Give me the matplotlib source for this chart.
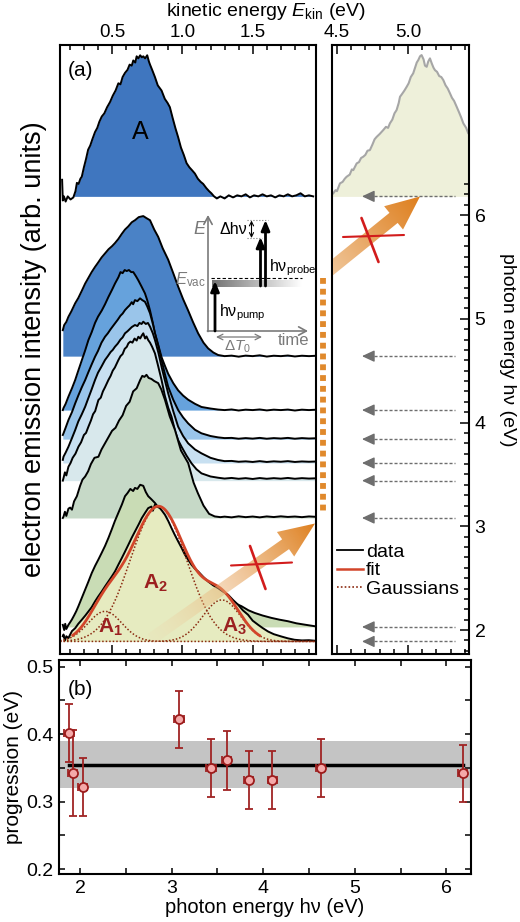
import numpy as np
import matplotlib
matplotlib.use("Agg")
import matplotlib.pyplot as plt
from matplotlib.patches import Polygon
from matplotlib.lines import Line2D
from matplotlib.ticker import MultipleLocator, FixedLocator, FormatStrFormatter
from matplotlib.colors import to_rgb

plt.rcParams.update({
    "font.family": ["Liberation Sans", "DejaVu Sans"],
    "mathtext.fontset": "custom",
    "mathtext.rm": "Liberation Sans",
    "mathtext.it": "Liberation Sans:italic",
    "mathtext.bf": "Liberation Sans:bold",
    "axes.linewidth": 1.5,
})

# ---------------- data: panel (a), left: (kinetic energy eV, intensity) -------------
hv_left = [6.18, 4.64, 4.12, 3.84, 3.61, 3.44, 3.08, 2.03, 1.89]

spec_618 = [(0.145, 0.16), (0.150, -0.04), (0.158, 0.00), (0.170, -0.05), (0.185, 0.00), (0.205, -0.03),
            (0.225, -0.01), (0.240, 0.05), (0.250, 0.13), (0.262, 0.12), (0.275, 0.17), (0.285, 0.19),
            (0.300, 0.28), (0.315, 0.36), (0.330, 0.45), (0.345, 0.49), (0.360, 0.55), (0.379, 0.62),
            (0.395, 0.66), (0.410, 0.72), (0.427, 0.77), (0.445, 0.80), (0.465, 0.86), (0.486, 0.91),
            (0.505, 0.97), (0.525, 1.02), (0.545, 1.09), (0.560, 1.08), (0.575, 1.15), (0.592, 1.19),
            (0.610, 1.22), (0.625, 1.27), (0.640, 1.26), (0.651, 1.31), (0.665, 1.29), (0.675, 1.35),
            (0.687, 1.33), (0.700, 1.36), (0.712, 1.34), (0.722, 1.35), (0.735, 1.33), (0.750, 1.36),
            (0.762, 1.30), (0.770, 1.27), (0.785, 1.22), (0.805, 1.15), (0.825, 1.07), (0.852, 1.02),
            (0.875, 0.94), (0.895, 0.90), (0.911, 0.86), (0.930, 0.76), (0.950, 0.66), (0.970, 0.57),
            (0.990, 0.47), (1.010, 0.40), (1.030, 0.32), (1.050, 0.28), (1.070, 0.25), (1.089, 0.22),
            (1.110, 0.17), (1.130, 0.14), (1.148, 0.12), (1.170, 0.08), (1.190, 0.05), (1.206, 0.03),
            (1.225, 0.00), (1.245, -0.02), (1.27, 0.00), (1.30, -0.02), (1.33, 0.01), (1.36, -0.01),
            (1.39, 0.01), (1.42, 0.00), (1.45, 0.02), (1.48, -0.01), (1.51, 0.01), (1.54, 0.00),
            (1.57, 0.02), (1.60, 0.00), (1.63, 0.01), (1.66, -0.01), (1.69, 0.01), (1.72, 0.00),
            (1.75, 0.02), (1.78, 0.00), (1.81, 0.01), (1.84, 0.03), (1.87, 0.00), (1.90, 0.01), (1.93, 0.00)]

spec_464 = [(0.150, 0.25), (0.160, 0.30), (0.175, 0.33), (0.190, 0.38), (0.210, 0.43), (0.238, 0.51),
            (0.260, 0.56), (0.285, 0.63), (0.309, 0.70), (0.330, 0.75), (0.355, 0.81), (0.379, 0.86),
            (0.400, 0.90), (0.425, 0.95), (0.450, 0.99), (0.475, 1.03), (0.500, 1.06), (0.521, 1.09),
            (0.545, 1.13), (0.570, 1.18), (0.592, 1.22), (0.615, 1.25), (0.640, 1.29), (0.663, 1.31),
            (0.690, 1.34), (0.722, 1.35), (0.745, 1.33), (0.770, 1.31), (0.800, 1.22), (0.828, 1.15),
            (0.860, 1.04), (0.899, 0.93), (0.935, 0.80), (0.970, 0.67), (1.005, 0.55), (1.041, 0.44),
            (1.075, 0.33), (1.112, 0.22), (1.150, 0.13), (1.183, 0.075), (1.220, 0.035), (1.254, 0.011),
            (1.30, 0.0), (1.35, 0.005), (1.40, -0.005), (1.45, 0.005), (1.50, 0.0), (1.55, 0.008),
            (1.60, -0.004), (1.65, 0.004), (1.70, 0.0), (1.75, 0.006), (1.80, -0.003), (1.85, 0.004),
            (1.90, 0.0), (1.94, 0.003)]

spec_412 = [(0.150, 0.00), (0.155, 0.02), (0.170, 0.06), (0.190, 0.13), (0.215, 0.21), (0.238, 0.29),
            (0.260, 0.38), (0.285, 0.48), (0.310, 0.58), (0.332, 0.675), (0.355, 0.75), (0.379, 0.84),
            (0.400, 0.90), (0.427, 0.96), (0.450, 1.02), (0.474, 1.09), (0.500, 1.16), (0.521, 1.22),
            (0.545, 1.28), (0.560, 1.33), (0.575, 1.32), (0.590, 1.35), (0.604, 1.34), (0.620, 1.35),
            (0.636, 1.33), (0.651, 1.33), (0.670, 1.29), (0.687, 1.25), (0.710, 1.19), (0.734, 1.125),
            (0.750, 1.06), (0.770, 0.96), (0.790, 0.84), (0.805, 0.74), (0.830, 0.62), (0.852, 0.51),
            (0.875, 0.43), (0.899, 0.35), (0.935, 0.26), (0.970, 0.19), (1.005, 0.14), (1.041, 0.10),
            (1.090, 0.06), (1.136, 0.03), (1.200, 0.015), (1.254, 0.005), (1.30, 0.0), (1.35, 0.006),
            (1.40, -0.004), (1.45, 0.004), (1.50, 0.0), (1.55, 0.006), (1.60, -0.003), (1.65, 0.004),
            (1.70, 0.0), (1.75, 0.005), (1.80, -0.004), (1.85, 0.004), (1.90, 0.0), (1.94, 0.003)]

spec_384 = [(0.150, 0.04), (0.155, 0.056), (0.170, 0.11), (0.190, 0.184), (0.215, 0.26), (0.238, 0.345),
            (0.260, 0.42), (0.285, 0.50), (0.309, 0.57), (0.330, 0.64), (0.355, 0.72), (0.379, 0.794),
            (0.400, 0.85), (0.425, 0.93), (0.450, 0.987), (0.470, 1.02), (0.490, 1.06), (0.521, 1.116),
            (0.540, 1.15), (0.560, 1.19), (0.575, 1.21), (0.592, 1.244), (0.610, 1.27), (0.625, 1.29),
            (0.640, 1.32), (0.650, 1.30), (0.663, 1.34), (0.680, 1.33), (0.699, 1.357), (0.715, 1.34),
            (0.734, 1.324), (0.750, 1.28), (0.770, 1.213), (0.790, 1.11), (0.805, 1.02), (0.830, 0.89),
            (0.852, 0.762), (0.875, 0.63), (0.899, 0.505), (0.935, 0.38), (0.970, 0.28), (1.005, 0.21),
            (1.041, 0.152), (1.090, 0.09), (1.136, 0.056), (1.200, 0.03), (1.254, 0.017), (1.30, 0.01),
            (1.35, 0.012), (1.40, 0.004), (1.45, 0.01), (1.50, 0.005), (1.55, 0.012), (1.60, 0.004),
            (1.65, 0.01), (1.70, 0.006), (1.75, 0.012), (1.80, 0.004), (1.85, 0.01), (1.90, 0.006),
            (1.94, 0.008)]

spec_361 = [(0.150, 0.03), (0.155, 0.061), (0.170, 0.10), (0.190, 0.157), (0.215, 0.24), (0.238, 0.318),
            (0.260, 0.40), (0.285, 0.47), (0.309, 0.543), (0.330, 0.62), (0.355, 0.71), (0.379, 0.80),
            (0.400, 0.87), (0.425, 0.93), (0.450, 0.993), (0.470, 1.03), (0.490, 1.07), (0.505, 1.09),
            (0.521, 1.121), (0.540, 1.15), (0.560, 1.19), (0.575, 1.21), (0.592, 1.25), (0.610, 1.27),
            (0.625, 1.29), (0.640, 1.31), (0.663, 1.33), (0.680, 1.32), (0.695, 1.35), (0.710, 1.34),
            (0.722, 1.362), (0.740, 1.34), (0.755, 1.35), (0.770, 1.314), (0.790, 1.25), (0.805, 1.186),
            (0.830, 1.06), (0.852, 0.928), (0.875, 0.80), (0.899, 0.672), (0.935, 0.50), (0.970, 0.35),
            (1.005, 0.26), (1.041, 0.19), (1.090, 0.13), (1.136, 0.093), (1.200, 0.05), (1.254, 0.029),
            (1.30, 0.018), (1.35, 0.02), (1.40, 0.012), (1.45, 0.016), (1.50, 0.01), (1.55, 0.018),
            (1.60, 0.01), (1.65, 0.016), (1.70, 0.012), (1.75, 0.018), (1.80, 0.01), (1.85, 0.015),
            (1.90, 0.012), (1.94, 0.014)]

spec_344 = [(0.150, 0.00), (0.155, 0.025), (0.165, 0.08), (0.175, 0.05), (0.190, 0.134), (0.205, 0.17),
            (0.220, 0.22), (0.240, 0.26), (0.261, 0.327), (0.280, 0.37), (0.300, 0.44), (0.315, 0.46),
            (0.332, 0.52), (0.350, 0.58), (0.365, 0.64), (0.380, 0.67), (0.403, 0.777), (0.420, 0.80),
            (0.435, 0.86), (0.450, 0.90), (0.474, 0.97), (0.490, 1.01), (0.505, 1.06), (0.520, 1.09),
            (0.545, 1.162), (0.560, 1.20), (0.575, 1.22), (0.590, 1.27), (0.605, 1.29), (0.616, 1.323),
            (0.630, 1.34), (0.645, 1.33), (0.660, 1.37), (0.675, 1.35), (0.687, 1.387), (0.700, 1.37),
            (0.712, 1.40), (0.722, 1.42), (0.735, 1.37), (0.745, 1.39), (0.757, 1.355), (0.770, 1.33),
            (0.785, 1.29), (0.805, 1.227), (0.825, 1.12), (0.852, 0.97), (0.875, 0.82), (0.900, 0.70),
            (0.923, 0.616), (0.950, 0.47), (0.970, 0.39), (0.994, 0.327), (1.030, 0.24), (1.065, 0.167),
            (1.100, 0.11), (1.136, 0.07), (1.200, 0.04), (1.254, 0.028), (1.30, 0.02), (1.35, 0.026),
            (1.40, 0.018), (1.45, 0.024), (1.50, 0.016), (1.55, 0.025), (1.60, 0.018), (1.65, 0.024),
            (1.70, 0.019), (1.75, 0.026), (1.80, 0.018), (1.85, 0.024), (1.90, 0.02), (1.94, 0.022)]

spec_308 = [(0.150, 0.00), (0.155, 0.013), (0.165, 0.06), (0.175, 0.02), (0.190, 0.09), (0.202, 0.10),
            (0.215, 0.08), (0.230, 0.16), (0.250, 0.21), (0.273, 0.31), (0.290, 0.37), (0.309, 0.40),
            (0.330, 0.45), (0.350, 0.52), (0.375, 0.58), (0.403, 0.59), (0.425, 0.66), (0.450, 0.72),
            (0.475, 0.78), (0.500, 0.84), (0.525, 0.87), (0.550, 0.94), (0.575, 0.99), (0.600, 1.08),
            (0.625, 1.12), (0.650, 1.22), (0.675, 1.25), (0.700, 1.33), (0.715, 1.37), (0.730, 1.36),
            (0.745, 1.38), (0.760, 1.35), (0.780, 1.34), (0.800, 1.32), (0.828, 1.30), (0.850, 1.24),
            (0.876, 1.14), (0.910, 0.98), (0.947, 0.85), (0.990, 0.65), (1.041, 0.53), (1.080, 0.34),
            (1.110, 0.24), (1.150, 0.12), (1.190, 0.04), (1.230, 0.015), (1.27, 0.008), (1.30, 0.013),
            (1.35, 0.006), (1.40, 0.016), (1.45, 0.008), (1.50, 0.014), (1.55, 0.006), (1.60, 0.015),
            (1.65, 0.009), (1.70, 0.016), (1.75, 0.01), (1.80, 0.014), (1.85, 0.008), (1.90, 0.015),
            (1.94, 0.012)]

spec_203 = [(0.150, 0.02), (0.160, -0.03), (0.167, 0.03), (0.175, -0.02), (0.190, 0.02), (0.200, 0.04),
            (0.214, 0.07), (0.230, 0.11), (0.245, 0.15), (0.261, 0.20), (0.285, 0.28), (0.309, 0.36),
            (0.330, 0.43), (0.356, 0.52), (0.380, 0.59), (0.403, 0.65), (0.425, 0.71), (0.450, 0.78),
            (0.475, 0.86), (0.498, 0.94), (0.520, 1.02), (0.545, 1.10), (0.570, 1.18), (0.592, 1.26),
            (0.610, 1.29), (0.630, 1.33), (0.650, 1.31), (0.663, 1.34), (0.680, 1.33), (0.700, 1.37),
            (0.722, 1.36), (0.740, 1.30), (0.757, 1.26), (0.780, 1.23), (0.805, 1.195), (0.830, 1.15),
            (0.852, 1.10), (0.875, 1.05), (0.899, 1.00), (0.920, 0.94), (0.947, 0.874), (0.980, 0.79),
            (1.018, 0.713), (1.050, 0.63), (1.089, 0.552), (1.120, 0.49), (1.160, 0.424), (1.200, 0.37),
            (1.230, 0.328), (1.280, 0.29), (1.325, 0.263), (1.370, 0.23), (1.420, 0.20), (1.470, 0.16),
            (1.514, 0.135), (1.570, 0.11), (1.633, 0.087), (1.690, 0.07), (1.750, 0.055), (1.810, 0.035),
            (1.869, 0.022), (1.940, 0.007)]

spec_189 = [(0.150, 0.05), (0.155, 0.067), (0.165, 0.01), (0.175, 0.05), (0.190, 0.032), (0.200, 0.06),
            (0.215, 0.10), (0.238, 0.128), (0.260, 0.17), (0.285, 0.209), (0.310, 0.25), (0.332, 0.289),
            (0.355, 0.33), (0.379, 0.386), (0.400, 0.43), (0.427, 0.482), (0.450, 0.53), (0.474, 0.578),
            (0.500, 0.63), (0.521, 0.675), (0.545, 0.74), (0.569, 0.803), (0.590, 0.86), (0.616, 0.932),
            (0.640, 1.00), (0.663, 1.06), (0.690, 1.13), (0.711, 1.188), (0.735, 1.24), (0.757, 1.285),
            (0.780, 1.30), (0.790, 1.26), (0.805, 1.318), (0.820, 1.30), (0.840, 1.285), (0.855, 1.26),
            (0.876, 1.221), (0.900, 1.16), (0.923, 1.092), (0.945, 1.03), (0.970, 0.964), (0.995, 0.90),
            (1.018, 0.836), (1.040, 0.79), (1.065, 0.739), (1.090, 0.70), (1.112, 0.675), (1.150, 0.62),
            (1.183, 0.578), (1.220, 0.54), (1.254, 0.514), (1.290, 0.48), (1.325, 0.45), (1.360, 0.40),
            (1.396, 0.354), (1.430, 0.30), (1.467, 0.257), (1.500, 0.20), (1.538, 0.161), (1.570, 0.13),
            (1.609, 0.096), (1.650, 0.07), (1.703, 0.048), (1.750, 0.03), (1.798, 0.016), (1.850, 0.01),
            (1.900, 0.012), (1.940, 0.007)]

spectra_left = [spec_618, spec_464, spec_412, spec_384, spec_361, spec_344, spec_308, spec_203, spec_189]
fill_colors = ["#3f76bf", "#4a82c6", "#66a2dc", "#9ac5ea", "#c8e0f1", "#d8e8ec", "#c6d9c7", "#c9dcb5", "#e6ebc0"]

# Gaussian fit components of the 1.89 eV spectrum (A1, A2, A3)
gauss_center = [0.45, 0.83, 1.28]
gauss_height = [0.29, 1.30, 0.40]
gauss_sigma = [0.12, 0.20, 0.135]
fit_range = (0.22, 1.55)

# ---------------- panel (a), right: second-order spectrum at 6.18 eV ----------------
hv_right = 6.18
spec_right = [(4.465, 0.02), (4.474, 0.029), (4.49, 0.06), (4.50, 0.05), (4.521, 0.125), (4.54, 0.14),
              (4.555, 0.17), (4.568, 0.189), (4.59, 0.21), (4.605, 0.26), (4.615, 0.253), (4.639, 0.318),
              (4.655, 0.33), (4.67, 0.37), (4.685, 0.382), (4.70, 0.40), (4.715, 0.44), (4.732, 0.446),
              (4.75, 0.50), (4.765, 0.55), (4.78, 0.574), (4.80, 0.60), (4.826, 0.639), (4.845, 0.67),
              (4.86, 0.66), (4.873, 0.704), (4.89, 0.74), (4.905, 0.80), (4.92, 0.832), (4.935, 0.90),
              (4.944, 0.96), (4.96, 0.99), (4.975, 1.02), (4.991, 1.056), (5.005, 1.09), (5.02, 1.15),
              (5.037, 1.186), (5.05, 1.24), (5.062, 1.29), (5.073, 1.314), (5.085, 1.35), (5.096, 1.362),
              (5.11, 1.32), (5.12, 1.26), (5.132, 1.249), (5.143, 1.30), (5.155, 1.33), (5.168, 1.28),
              (5.18, 1.24), (5.19, 1.217), (5.205, 1.20), (5.22, 1.16), (5.235, 1.15), (5.249, 1.121),
              (5.265, 1.07), (5.28, 1.04), (5.296, 0.993), (5.31, 0.95), (5.325, 0.92), (5.343, 0.864),
              (5.36, 0.81), (5.375, 0.76), (5.39, 0.704), (5.41, 0.66), (5.425, 0.607), (5.435, 0.60)]
arrow_hv = [6.18, 4.64, 4.12, 3.84, 3.61, 3.44, 3.08, 2.03, 1.89]

# ---------------- panel (b) ----------------
hv_b = [1.88, 1.92, 2.03, 3.08, 3.43, 3.60, 3.84, 4.10, 4.63, 6.18]
prog = [0.401, 0.342, 0.322, 0.422, 0.350, 0.361, 0.332, 0.332, 0.350, 0.342]
prog_err = [0.043, 0.064, 0.043, 0.042, 0.043, 0.044, 0.043, 0.043, 0.043, 0.042]
hv_err = [0.05] * 10
prog_mean = 0.355
prog_band = 0.035

# ---------------- figure ----------------
W, H = 520, 922
fig = plt.figure(figsize=(W / 100, H / 100), dpi=100)


def frac(x0, y0, x1, y1):
    return [x0 / W, 1 - y1 / H, (x1 - x0) / W, (y1 - y0) / H]


ax_l = fig.add_axes(frac(60, 45, 316, 654))
ax_r = fig.add_axes(frac(332, 45, 469, 654))
ax_b = fig.add_axes(frac(59, 660, 471, 874))
ov = fig.add_axes([0, 0, 1, 1], zorder=10)
ov.set_xlim(0, W)
ov.set_ylim(H, 0)
ov.axis("off")

YLIM = (1.769, 7.639)

# ---- left panel spectra ----
for k, (hv, pts, fc) in enumerate(zip(hv_left, spectra_left, fill_colors)):
    E = np.array([p[0] for p in pts])
    I = np.array([p[1] for p in pts])
    where = E >= (0.225 if k == 0 else 0.0)
    ax_l.fill_between(E, hv, hv + I, where=where, interpolate=True, color=fc, lw=0, zorder=1 + 0.02 * k)
    ax_l.plot(E, hv + I, color="k", lw=1.4, zorder=1.01 + 0.02 * k)

hv_fit = hv_left[-1]
Eg = np.linspace(0.13, 1.95, 400)
comps = [h * np.exp(-(Eg - c) ** 2 / (2 * s ** 2)) for c, h, s in zip(gauss_center, gauss_height, gauss_sigma)]
for g in comps:
    ax_l.plot(Eg, hv_fit + g, color="#8b2a10", lw=1.1, ls=(0, (1, 1.3)), zorder=1.3)
fsel = (Eg >= fit_range[0]) & (Eg <= fit_range[1])
ax_l.plot(Eg[fsel], hv_fit + sum(comps)[fsel], color="#d2452a", lw=2.0, zorder=1.35)

ax_l.text(0.70, 6.80, "A", fontsize=18, ha="center", va="center", zorder=3)
lab_col = "#9b2020"
ax_l.text(0.486, 2.03, r"$\mathbf{A}_{\mathbf{1}}$", fontsize=15, color=lab_col, ha="center", va="center", zorder=3)
ax_l.text(0.805, 2.45, r"$\mathbf{A}_{\mathbf{2}}$", fontsize=15, color=lab_col, ha="center", va="center", zorder=3)
ax_l.text(1.372, 2.04, r"$\mathbf{A}_{\mathbf{3}}$", fontsize=15, color=lab_col, ha="center", va="center", zorder=3)
ax_l.text(0.03, 0.958, "(a)", transform=ax_l.transAxes, fontsize=15, ha="left", va="center")

ax_l.set_xlim(0.13, 1.95)
ax_l.set_ylim(*YLIM)
ax_l.xaxis.set_major_locator(MultipleLocator(0.5))
ax_l.xaxis.set_minor_locator(MultipleLocator(0.1))
ax_l.xaxis.set_major_formatter(FormatStrFormatter("%.1f"))
ax_l.tick_params(axis="x", which="both", direction="in", top=True, bottom=True,
                 labeltop=True, labelbottom=False, labelsize=13.5, pad=3, width=1.1)
ax_l.tick_params(axis="x", which="major", length=6.5)
ax_l.tick_params(axis="x", which="minor", length=3.5)
ax_l.tick_params(axis="y", left=False, labelleft=False)
ax_l.set_ylabel("electron emission intensity (arb. units)", fontsize=19.5, labelpad=9)

# ---- right panel ----
Er = np.array([p[0] for p in spec_right])
Ir = np.array([p[1] for p in spec_right])
ax_r.fill_between(Er, hv_right, hv_right + Ir, color="#eef0da", lw=0, zorder=1)
ax_r.plot(Er, hv_right + Ir, color="#a6a6a6", lw=1.5, zorder=1.1)
for hv in arrow_hv:
    ax_r.plot([4.725, 5.33], [hv, hv], color="#6e6e6e", lw=1.0, ls=(0, (2.2, 1.4)), zorder=1.5)
    ax_r.annotate("", xy=(4.676, hv), xytext=(4.74, hv),
                  arrowprops=dict(arrowstyle="-|>,head_length=0.75,head_width=0.35", color="#6e6e6e",
                                  lw=1.0, shrinkA=0, shrinkB=0), zorder=1.5)
ax_r.set_xlim(4.465, 5.43)
ax_r.set_ylim(*YLIM)
ax_r.xaxis.set_major_locator(MultipleLocator(0.5))
ax_r.xaxis.set_minor_locator(MultipleLocator(0.1))
ax_r.xaxis.set_major_formatter(FormatStrFormatter("%.1f"))
ax_r.tick_params(axis="x", which="both", direction="in", top=True, bottom=True,
                 labeltop=True, labelbottom=False, labelsize=13.5, pad=3, width=1.1)
ax_r.tick_params(axis="x", which="major", length=6.5)
ax_r.tick_params(axis="x", which="minor", length=3.5)
ax_r.yaxis.set_major_locator(FixedLocator([2, 3, 4, 5, 6]))
ax_r.yaxis.set_minor_locator(FixedLocator(np.round(np.arange(1.8, 6.31, 0.1), 2)))
ax_r.tick_params(axis="y", which="both", direction="in", left=False, right=True,
                 labelleft=False, labelright=True, labelsize=14, pad=4, width=1.1)
ax_r.tick_params(axis="y", which="major", length=6.5)
ax_r.tick_params(axis="y", which="minor", length=3.5)
ax_r.yaxis.set_label_position("right")
ax_r.set_ylabel("photon energy h\u03bd (eV)", fontsize=14, rotation=270, va="bottom", labelpad=10)

leg_handles = [Line2D([], [], color="k", lw=1.3),
               Line2D([], [], color="#d2452a", lw=1.8),
               Line2D([], [], color="#8b2a10", lw=1.2, ls=(0, (1, 1.3)))]
ax_r.legend(leg_handles, ["data", "fit", "Gaussians"], loc="upper left", bbox_to_anchor=(0.04, 0.182),
            frameon=False, fontsize=14, handlelength=1.3, handletextpad=0.15, labelspacing=0.05,
            borderpad=0, borderaxespad=0)

# ---- panel (b) ----
ax_b.axhspan(prog_mean - prog_band, prog_mean + prog_band, color="#c4c4c4", lw=0, zorder=0.5)
ax_b.plot([min(hv_b), max(hv_b)], [prog_mean, prog_mean], color="k", lw=2.5, zorder=1)
ax_b.errorbar(hv_b, prog, yerr=prog_err, xerr=hv_err, fmt="o", ms=6.5, mfc="#f4a9a9", mec="#9c1c1c",
              mew=1.3, ecolor="#a02424", elinewidth=1.3, capsize=3, capthick=1.3, zorder=3)
ax_b.set_xlim(1.77, 6.27)
ax_b.set_ylim(0.1926, 0.51)
ax_b.xaxis.set_major_locator(MultipleLocator(1))
ax_b.xaxis.set_minor_locator(MultipleLocator(0.5))
ax_b.yaxis.set_major_locator(MultipleLocator(0.1))
ax_b.yaxis.set_minor_locator(MultipleLocator(0.05))
ax_b.yaxis.set_major_formatter(FormatStrFormatter("%.1f"))
ax_b.tick_params(which="both", direction="in", top=True, right=True, length=4.5, width=1.1,
                 labelsize=14, pad=4)
ax_b.set_xlabel("photon energy h\u03bd (eV)", fontsize=14.5, labelpad=1)
ax_b.set_ylabel("progression (eV)", fontsize=15, labelpad=2)
ax_b.text(0.022, 0.864, "(b)", transform=ax_b.transAxes, fontsize=15, ha="left", va="center")

# ---- top label ----
fig.text(266 / W, 1 - 11.5 / H, r"kinetic energy $E_{\rm kin}$ (eV)", ha="center", va="center", fontsize=14)


# ---------------- overlay decorations (pixel coordinates) ----------------
def grad_arrow(ax, tail, tip, shaft_w, head_w, head_l, cols, alphas, cut_x=None, z=5):
    tail = np.array(tail, float)
    tip = np.array(tip, float)
    d = tip - tail
    L = np.hypot(*d)
    u = d / L
    n = np.array([-u[1], u[0]])
    base = tip - u * head_l
    t1 = tail + n * shaft_w / 2
    t2 = tail - n * shaft_w / 2
    if cut_x is not None:
        t1 = t1 + u * (cut_x - t1[0]) / u[0]
        t2 = t2 + u * (cut_x - t2[0]) / u[0]
    pts = [t1, base + n * shaft_w / 2, base + n * head_w / 2, tip,
           base - n * head_w / 2, base - n * shaft_w / 2, t2]
    poly = Polygon(pts, closed=True, fc="none", ec="none")
    ax.add_patch(poly)
    xs = [p[0] for p in pts]
    ys = [p[1] for p in pts]
    x0, x1, y0, y1 = min(xs), max(xs), min(ys), max(ys)
    gx = np.linspace(x0, x1, 220)
    gy = np.linspace(y0, y1, 220)
    X, Y = np.meshgrid(gx, gy)
    t = np.clip(((X - tail[0]) * u[0] + (Y - tail[1]) * u[1]) / L, 0, 1)
    c0 = np.array(to_rgb(cols[0]))
    c1 = np.array(to_rgb(cols[1]))
    rgba = np.zeros((220, 220, 4))
    rgba[..., :3] = c0 + (c1 - c0) * t[..., None]
    rgba[..., 3] = alphas[0] + (alphas[1] - alphas[0]) * t
    im = ax.imshow(rgba, extent=(x0, x1, y1, y0), origin="upper", aspect="auto",
                   interpolation="bilinear", zorder=z)
    im.set_clip_path(poly)


def stroke(ax, p0, p1, lw, color="#d21c1c", z=6):
    ax.plot([p0[0], p1[0]], [p0[1], p1[1]], color=color, lw=lw, solid_capstyle="round", zorder=z)


# lower orange arrow with red cross
grad_arrow(ov, (151, 639), (315, 523.5), 12, 30, 36, ("#f3d3ae", "#de7e1c"), (0.12, 1.0))
stroke(ov, (231, 565.5), (292, 562.5), 1.5)
stroke(ov, (250, 546), (265.5, 589), 1.9)

# upper orange arrow (clipped at the right panel's edge) with red cross
grad_arrow(ov, (300, 293.6), (420, 196.5), 13, 30, 34, ("#f5dcc0", "#de7e1c"), (1.0, 1.0), cut_x=332.8)
stroke(ov, (343, 237), (404, 235), 1.5)
stroke(ov, (361.5, 218), (378.5, 262), 1.9)

# orange dotted column between the panels
ov.plot([322.7, 322.7], [278, 512], color="#e0892b", lw=4.2, ls=(0, (1.0, 0.85)),
        dash_capstyle="butt", zorder=4)

# inset: energy scheme
gray = "#7a7a7a"
ov.annotate("", xy=(208, 215), xytext=(208, 331.5),
            arrowprops=dict(arrowstyle="->,head_length=0.55,head_width=0.3", color=gray, lw=1.2,
                            shrinkA=0, shrinkB=0))
ov.annotate("", xy=(308, 331), xytext=(207.4, 331),
            arrowprops=dict(arrowstyle="->,head_length=0.55,head_width=0.3", color=gray, lw=1.2,
                            shrinkA=0, shrinkB=0))
ov.text(199, 229, "E", style="italic", color=gray, fontsize=13, ha="center", va="center")
ov.text(293, 340, "time", color=gray, fontsize=12, ha="center", va="center")
ov.annotate("", xy=(262, 337), xytext=(216, 337),
            arrowprops=dict(arrowstyle="<->,head_length=0.4,head_width=0.2", color=gray, lw=0.9,
                            shrinkA=0, shrinkB=0))
ov.text(237, 347, r"$\Delta T_0$", color=gray, fontsize=11, ha="center", va="center")
bar = np.ones((2, 120, 3)) * np.linspace(0.45, 1.0, 120)[None, :, None]
ov.imshow(bar, extent=(212, 302, 287, 280), origin="upper", aspect="auto", interpolation="bilinear", zorder=3)
ov.plot([211, 302], [278.5, 278.5], color="k", lw=0.8, ls=(0, (3, 2)), zorder=4)
ov.text(206, 279.5, r"$E_{\rm vac}$", color=gray, fontsize=12, ha="right", va="center")
ov.annotate("", xy=(215, 281), xytext=(215, 331),
            arrowprops=dict(arrowstyle="-|>,head_length=0.6,head_width=0.25", color="k", lw=2,
                            shrinkA=0, shrinkB=0))
ov.text(219, 313, "h\u03bd$_{\\rm pump}$", fontsize=11.5, ha="left", va="center")
ov.annotate("", xy=(260.5, 237), xytext=(260.5, 286),
            arrowprops=dict(arrowstyle="-|>,head_length=0.6,head_width=0.25", color="k", lw=2,
                            shrinkA=0, shrinkB=0))
ov.annotate("", xy=(265.5, 220), xytext=(265.5, 286),
            arrowprops=dict(arrowstyle="-|>,head_length=0.6,head_width=0.25", color="k", lw=2,
                            shrinkA=0, shrinkB=0))
ov.plot([247, 268], [220.5, 220.5], color=gray, lw=0.8, ls=":")
ov.plot([247, 262], [238, 238], color=gray, lw=0.8, ls=":")
ov.annotate("", xy=(251.5, 220.5), xytext=(251.5, 238),
            arrowprops=dict(arrowstyle="<->,head_length=0.3,head_width=0.15", color="k", lw=0.8,
                            shrinkA=0, shrinkB=0))
ov.text(247, 229, "\u0394h\u03bd", fontsize=11.5, ha="right", va="center")
ov.text(269, 268, "h\u03bd$_{\\rm probe}$", fontsize=11.5, ha="left", va="center")

ov.set_xlim(0, W)
ov.set_ylim(H, 0)

fig.savefig("out.png", dpi=100)
